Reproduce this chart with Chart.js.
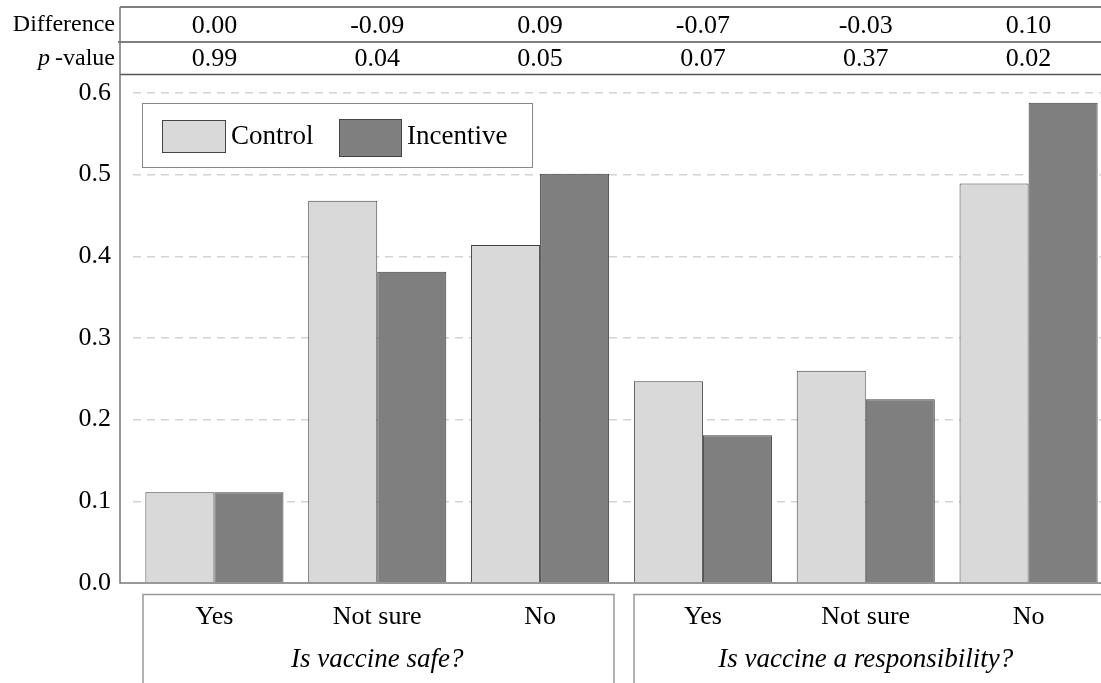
<!DOCTYPE html>
<html>
<head>
<meta charset="utf-8">
<script src="https://cdn.jsdelivr.net/npm/chart.js@4"></script>
<style>
  html, body { margin: 0; padding: 0; background: #fff; overflow: hidden; }
  #wrap { width: 1101px; height: 683px; overflow: hidden; position: relative; }
  #box { width: 1112px; height: 683px; }
</style>
</head>
<body>
<div id="wrap"><div id="box"><canvas id="chart"></canvas></div></div>
<script>
// answer categories, two questions of three answers each
const answers = ['Yes', 'Not sure', 'No', 'Yes', 'Not sure', 'No'];
const questions = ['Is vaccine safe?', 'Is vaccine a responsibility?'];

// share of respondents
const control   = [0.111, 0.468, 0.414, 0.247, 0.260, 0.489];
const incentive = [0.111, 0.381, 0.501, 0.181, 0.225, 0.588];

// table above the chart
const differences = ['0.00', '-0.09', '0.09', '-0.07', '-0.03', '0.10'];
const pValues     = ['0.99', '0.04', '0.05', '0.07', '0.37', '0.02'];

const yTicks = [0, 0.1, 0.2, 0.3, 0.4, 0.5, 0.6];

const SERIF = '"Liberation Serif", "Times New Roman", serif';

// frame, table, legend and question boxes
const decor = {
  id: 'decor',
  afterDraw(chart) {
    const c = chart.ctx;
    const x = chart.scales.x;
    const area = chart.chartArea;
    const W = chart.width;
    c.save();

    // table lines
    c.strokeStyle = '#555';
    c.lineWidth = 1.5;
    c.beginPath();
    c.moveTo(120, 7); c.lineTo(W, 7);
    c.moveTo(118, 42); c.lineTo(W, 42);
    c.moveTo(120, 74.5); c.lineTo(W, 74.5);
    c.stroke();

    // left axis and bottom axis
    c.strokeStyle = '#777';
    c.beginPath();
    c.moveTo(120, 7); c.lineTo(120, area.bottom);
    c.lineTo(W, area.bottom);
    c.stroke();

    // table text
    c.fillStyle = '#000';
    c.textBaseline = 'middle';
    c.font = '24px ' + SERIF;
    c.textAlign = 'right';
    c.fillText('Difference', 115, 25);
    const vw = c.measureText('-value').width;
    c.fillText('-value', 115, 59);
    c.font = 'italic 24px ' + SERIF;
    c.fillText('p', 115 - vw - 5, 59);
    c.textAlign = 'center';
    c.font = '26px ' + SERIF;
    differences.forEach((d, i) => {
      const cx = x.getPixelForValue(i);
      c.fillText(d, cx, 26);
      c.fillText(pValues[i], cx, 59);
    });

    // question boxes
    c.strokeStyle = '#999';
    c.lineWidth = 1.5;
    c.beginPath();
    c.moveTo(143, chart.height + 2); c.lineTo(143, 594.5); c.lineTo(614, 594.5); c.lineTo(614, chart.height + 2);
    c.moveTo(634, chart.height + 2); c.lineTo(634, 594.5); c.lineTo(W + 2, 594.5);
    c.stroke();
    c.fillStyle = '#000';
    c.font = 'italic 27px ' + SERIF;
    c.fillText(questions[0], x.getPixelForValue(1), 660);
    c.fillText(questions[1], x.getPixelForValue(4), 660);

    // legend
    c.fillStyle = '#fff';
    c.fillRect(142, 103, 390, 64);
    c.strokeStyle = '#888';
    c.lineWidth = 1;
    c.strokeRect(142.5, 103.5, 390, 64);
    const ds = chart.data.datasets;
    const items = [[162, 120, 63, 32], [339, 119, 62, 37]];
    c.font = '27px ' + SERIF;
    c.textAlign = 'left';
    ds.forEach((d, i) => {
      const [lx, ly, lw, lh] = items[i];
      c.fillStyle = d.backgroundColor;
      c.fillRect(lx, ly, lw, lh);
      c.strokeStyle = '#444';
      c.strokeRect(lx + 0.5, ly + 0.5, lw, lh);
      c.fillStyle = '#000';
      c.fillText(d.label, lx + lw + 6, 137);
    });
    c.restore();
  }
};

new Chart(document.getElementById('chart'), {
  type: 'bar',
  data: {
    labels: answers,
    datasets: [
      { label: 'Control', data: control, backgroundColor: '#d9d9d9', borderColor: '#404040', borderWidth: 1 },
      { label: 'Incentive', data: incentive, backgroundColor: '#7f7f7f', borderColor: '#404040', borderWidth: 1 }
    ]
  },
  options: {
    responsive: true,
    maintainAspectRatio: false,
    animation: false,
    datasets: { bar: { categoryPercentage: 0.848, barPercentage: 1 } },
    layout: { padding: { top: 75, right: 2, left: 0, bottom: 0 } },
    plugins: { legend: { display: false }, tooltip: { enabled: false } },
    scales: {
      x: {
        grid: { display: false, drawTicks: false },
        border: { display: false },
        ticks: { color: '#000', font: { family: SERIF, size: 26 }, padding: 19, maxRotation: 0 },
        afterFit(s) { s.height = 100; }
      },
      y: {
        min: 0,
        max: 0.622,
        grid: {
          drawTicks: false,
          color: ctx => ctx.tick && ctx.tick.value > 0 ? '#d4d4d4' : 'rgba(0,0,0,0)',
          lineWidth: 1.5
        },
        border: { display: false, dash: [8, 6] },
        ticks: {
          color: '#000',
          font: { family: SERIF, size: 26 },
          padding: 22,
          callback: v => v.toFixed(1)
        },
        afterBuildTicks(s) { s.ticks = yTicks.map(v => ({ value: v })); },
        afterFit(s) { s.width = 133; }
      }
    }
  },
  plugins: [decor]
});
</script>
</body>
</html>
